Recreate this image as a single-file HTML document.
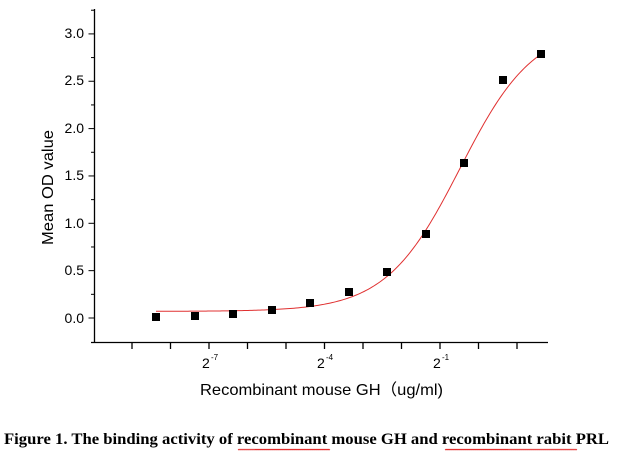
<!DOCTYPE html>
<html><head><meta charset="utf-8"><style>
body{margin:0;background:#fff;width:625px;height:456px;overflow:hidden}
svg text{font-family:"Liberation Sans",Arial,sans-serif}
</style></head><body>
<svg id="s" width="625" height="456" xmlns="http://www.w3.org/2000/svg">
<g stroke="#000" stroke-width="1.3" fill="none">
<line x1="94.5" y1="9" x2="94.5" y2="342.5"/>
<line x1="91" y1="342.5" x2="548" y2="342.5"/>
</g>
<g id="yt" stroke="#000" stroke-width="1"></g>
<g id="xt" stroke="#000" stroke-width="1.3"></g>
<g font-size="14" fill="#000" text-anchor="end">
<text x="84" y="38">3.0</text><text x="84" y="85">2.5</text><text x="84" y="133">2.0</text>
<text x="84" y="180">1.5</text><text x="84" y="228">1.0</text><text x="84" y="275">0.5</text>
<text x="84" y="323">0.0</text>
</g>
<g font-size="14" fill="#000">
<text x="202" y="368">2</text><text x="211" y="360" font-size="8">-7</text>
<text x="317" y="368">2</text><text x="326" y="360" font-size="8">-4</text>
<text x="433" y="368">2</text><text x="442" y="360" font-size="8">-1</text>
</g>
<text x="200" y="395" font-size="16" textLength="243" lengthAdjust="spacingAndGlyphs">Recombinant mouse GH（ug/ml)</text>
<text transform="translate(53,245) rotate(-90)" font-size="16" textLength="115" lengthAdjust="spacingAndGlyphs">Mean OD value</text>
<path id="c" stroke="#e03030" stroke-width="1" fill="none"/>
<g id="pts" fill="#000"></g>
<text x="4" y="444" font-size="16" font-weight="bold" textLength="605" lengthAdjust="spacingAndGlyphs" style="font-family:'Liberation Serif',serif">Figure 1. The binding activity of recombinant mouse GH and recombinant rabit PRL</text>
<g stroke="#d00" stroke-width="0.6" fill="none">
<path id="w1"/><path id="w2"/>
</g>
</svg>
<script>
var ns="http://www.w3.org/2000/svg";
function el(p,t,a){var e=document.createElementNS(ns,t);for(var k in a)e.setAttribute(k,a[k]);document.getElementById(p).appendChild(e);}
for(var i=0;i<=13;i++){var y=318-i*23.675;var len=(i%2==0)?6:3.5;el("yt","line",{x1:94.5-len,x2:94.5,y1:y,y2:y});}
for(var i=0;i<11;i++){var x=132+i*38.5;el("xt","line",{x1:x,x2:x,y1:342,y2:349});}
var P=[[156,317],[195,316],[233,314],[272,310],[310,303],[349,292],[387,272],[426,234],[464,163],[503,80],[541,54]];
P.forEach(function(p){el("pts","rect",{x:p[0]-4,y:p[1]-4,width:8,height:8});});
var d="";for(var x=156;x<=541;x+=2){var f=0.07+3.02/(1+Math.exp(-(x-460)/37));var y=318-94.7*f;d+=(x==156?"M":"L")+x+" "+y.toFixed(2);}
document.getElementById("c").setAttribute("d",d);
function wave(a,b,y){var s="M"+a+" "+y;for(var x=a;x<b;x+=2){s+=" L"+(x+1)+" "+(y+1.2)+" L"+(x+2)+" "+y;}return s;}
document.getElementById("w1").setAttribute("d",wave(238,330,449));
document.getElementById("w2").setAttribute("d",wave(445,576,449));
</script>
</body></html>
